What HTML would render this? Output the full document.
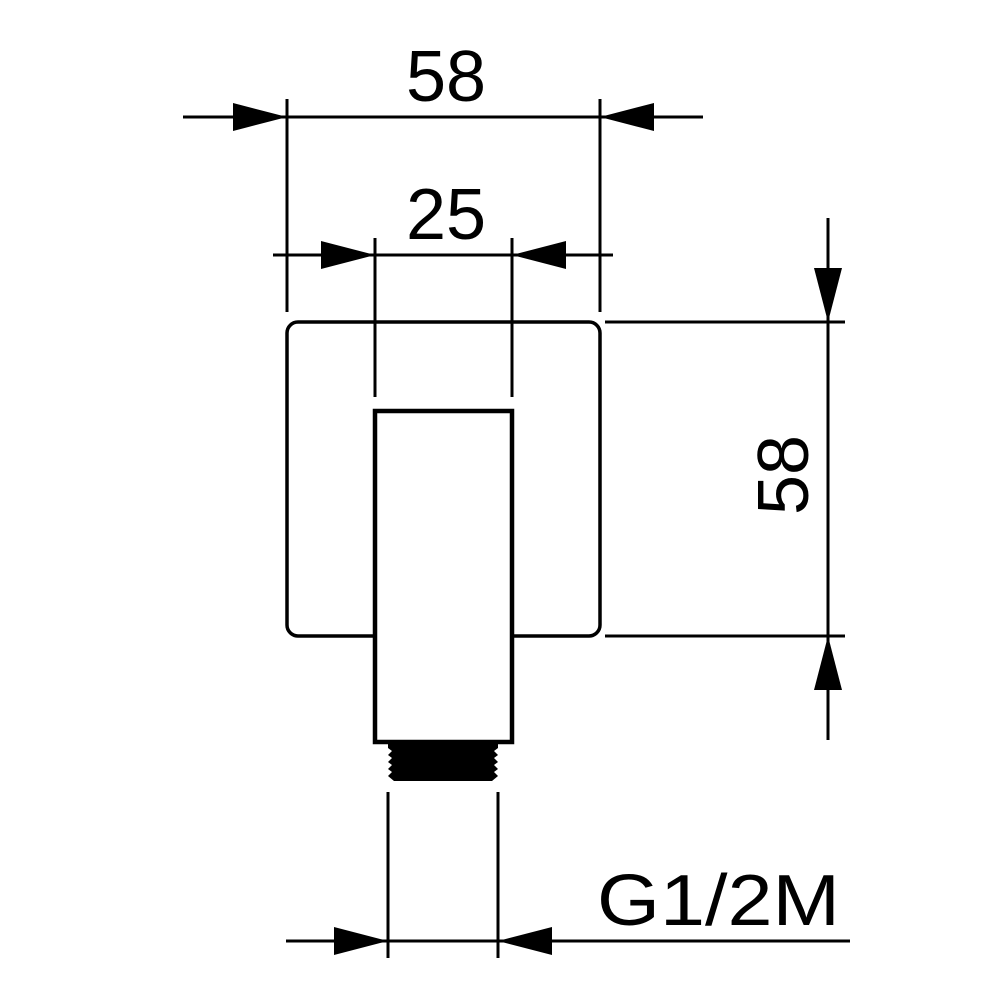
<!DOCTYPE html>
<html><head><meta charset="utf-8"><style>html,body{margin:0;padding:0;background:#fff}</style></head>
<body>
<svg width="1000" height="1000" viewBox="0 0 1000 1000" xmlns="http://www.w3.org/2000/svg">
<g stroke="#000" fill="none" stroke-width="3">
  <line x1="183" y1="117" x2="703" y2="117"/>
  <line x1="287" y1="99" x2="287" y2="312"/>
  <line x1="600" y1="99" x2="600" y2="312"/>
  <line x1="273" y1="255" x2="613" y2="255"/>
  <line x1="375" y1="238" x2="375" y2="397"/>
  <line x1="512" y1="238" x2="512" y2="397"/>
  <rect x="287" y="322" width="313" height="314" rx="11" ry="11" stroke-width="3.5"/>
  <rect x="375" y="411" width="137" height="331" stroke-width="4.5" fill="#fff"/>
  <line x1="828" y1="218" x2="828" y2="740"/>
  <line x1="605" y1="322" x2="845" y2="322"/>
  <line x1="605" y1="636" x2="845" y2="636"/>
  <line x1="286" y1="941" x2="850" y2="941"/>
  <line x1="388" y1="792" x2="388" y2="958"/>
  <line x1="498" y1="792" x2="498" y2="958"/>
</g>
<g fill="#000">
  <polygon points="287,117 233,103 233,131"/>
  <polygon points="600,117 654,103 654,131"/>
  <polygon points="375,255 321,241 321,269"/>
  <polygon points="512,255 566,241 566,269"/>
  <polygon points="828,322 814,268 842,268"/>
  <polygon points="828,636 814,690 842,690"/>
  <polygon points="388,941 334,927 334,955"/>
  <polygon points="498,941 552,927 552,955"/>
  <polygon points="388,742 498,742 498,748 494,751 498,755 494,758 498,762 494,765 498,769 494,772 498,776 492,781 394,781 388,776 392,772 388,769 392,765 388,762 392,758 388,755 392,751 388,748"/>
</g>
<g font-family="Liberation Sans, sans-serif" fill="#000" font-size="72">
  <text x="446" y="101" text-anchor="middle">58</text>
  <text x="446" y="239" text-anchor="middle">25</text>
  <text transform="translate(808,475) rotate(-90)" text-anchor="middle">58</text>
  <text x="597" y="925" textLength="243" lengthAdjust="spacingAndGlyphs">G1/2M</text>
</g>
</svg>
</body></html>
